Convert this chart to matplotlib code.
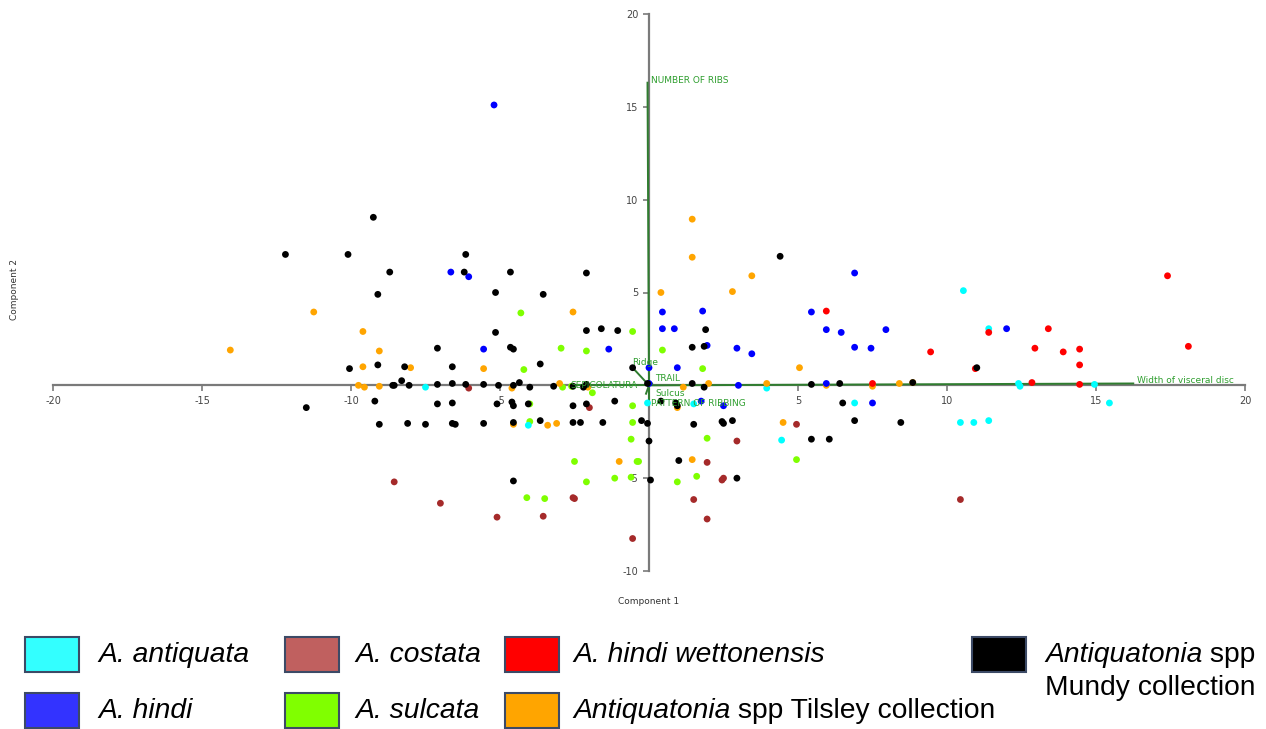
import matplotlib
matplotlib.use('Agg')
import matplotlib.pyplot as plt
from matplotlib.patches import Rectangle
from matplotlib.ticker import FixedLocator

plt.rcParams['axes.unicode_minus'] = False

# PCA scores (Component 1, Component 2) per group
antiquata_x = [-7.5, -4.05, -0.05, 1.5, 3.95, 4.45, 6.9, 10.55, 11.4, 12.4, 12.45, 14.95, 15.45, 10.45, 10.9, 11.4]
antiquata_y = [-0.1, -2.15, -0.95, -1.0, -0.15, -2.95, -0.95, 5.1, 3.05, 0.1, -0.05, 0.05, -0.95, -2.0, -2.0, -1.9]

hindi_x = [-5.2, -6.65, -6.05, -5.55, -1.35, 0.0, 0.0, 0.45, 1.8, 0.45, 0.85, 1.95, 2.95, 3.45, 0.95,
           3.0, 1.75, 2.5, 5.45, 5.95, 6.45, 5.95, 6.9, 7.95, 6.9, 7.45, 12.0, 7.5]
hindi_y = [15.1, 6.1, 5.85, 1.95, 1.95, 0.95, 0.1, 3.95, 4.0, 3.05, 3.05, 2.15, 2.0, 1.7, 0.95,
           0.0, -0.85, -1.1, 3.95, 3.0, 2.85, 0.1, 6.05, 3.0, 2.05, 2.0, 3.05, -0.95]

costata_x = [-6.05, -2.0, 4.95, 2.95, 1.95, 2.45, 2.5, 1.5, -2.55, -2.5, -8.55, -7.0, -5.1, -3.55, -0.55, 1.95, 10.45]
costata_y = [-0.15, -1.2, -2.1, -3.0, -4.15, -5.1, -5.0, -6.15, -6.05, -6.1, -5.2, -6.35, -7.1, -7.05, -8.25, -7.2, -6.15]

sulcata_x = [-4.3, -2.95, -2.1, -0.55, 0.45, -4.2, 1.8, -2.9, -2.6, -1.9, -4.0, -0.55, -4.0, -0.55, -0.6,
             1.95, -2.5, -0.4, -0.35, 4.95, -2.1, -1.15, -0.6, 0.95, 1.6, -4.1, -3.5]
sulcata_y = [3.9, 2.0, 1.85, 2.9, 1.9, 0.85, 0.9, -0.1, -0.05, -0.4, -1.0, -1.1, -1.95, -2.0, -2.9,
             -2.85, -4.1, -4.1, -4.1, -4.0, -5.2, -5.0, -4.95, -5.2, -4.9, -6.05, -6.1]

wettonensis_x = [5.95, 17.4, 13.4, 11.4, 12.95, 13.9, 14.45, 9.45, 18.1, 14.45, 10.95, 12.85, 7.5, 14.45]
wettonensis_y = [4.0, 5.9, 3.05, 2.85, 2.0, 1.8, 1.95, 1.8, 2.1, 1.1, 0.9, 0.15, 0.1, 0.05]

tilsley_x = [-14.05, -11.25, -9.6, -9.05, -9.6, -8.0, -5.55, -9.75, -9.55, -9.05, -4.6, -3.0, -2.05, -4.55,
             -3.4, -3.1, -2.55, -1.0, 1.45, 1.45, 1.45, 3.45, 2.8, 0.4, 1.15, 2.0, 3.95, 5.05, 0.95,
             4.5, 5.95, 7.5, 8.4, 8.85]
tilsley_y = [1.9, 3.95, 2.9, 1.85, 1.0, 0.95, 0.9, 0.0, -0.1, -0.05, -0.15, 0.1, -0.1, -2.1,
             -2.15, -2.05, 3.95, -4.1, -4.0, 8.95, 6.9, 5.9, 5.05, 5.0, -0.1, 0.1, 0.1, 0.95, -1.2,
             -2.0, 0.0, -0.05, 0.1, 0.15]

mundy_x = [-12.2, -10.1, -9.25, -8.7, -9.1, -6.15, -6.2, -4.65, -5.15, -3.55, -5.15, -7.1, -4.65, -4.55,
           -10.05, -9.1, -8.2, -6.6, -3.65, -8.6, -8.55, -8.3, -8.05, -7.1, -6.6, -6.15, -5.55, -5.05,
           -4.55, -4.35, -4.0, -3.2, -2.55, -2.2, -2.1, -0.05, -0.55, -9.2, -7.1, -6.6, -5.1, -4.6,
           -4.55, -4.05, -2.55, -2.1, -1.15, -11.5, -9.05, -8.1, -7.5, -6.6, -6.5, -5.55, -4.55, -3.65,
           -2.55, -2.3, -1.55, -0.25, -0.05, 0.0, -4.55, 0.05, 1.0, 2.95, -2.1, -2.1, -1.6, -1.05,
           1.9, 1.45, 1.85, 1.45, 1.85, 0.4, 0.9, 0.95, 1.5, 2.45, 2.5, 2.8, 4.4, 5.45, 6.4, 5.45,
           6.05, 8.85, 11.0, 6.5, 6.9, 8.45]
mundy_y = [7.05, 7.05, 9.05, 6.1, 4.9, 7.05, 6.1, 6.1, 5.0, 4.9, 2.85, 2.0, 2.05, 1.95,
           0.9, 1.1, 1.0, 1.0, 1.15, 0.0, 0.0, 0.25, 0.0, 0.05, 0.1, 0.05, 0.05, 0.0,
           0.0, 0.15, -0.1, -0.05, -0.05, -0.1, 0.05, 0.1, 0.95, -0.85, -1.0, -0.95, -1.0, -0.9,
           -1.1, -1.0, -1.1, -1.0, -0.85, -1.2, -2.1, -2.05, -2.1, -2.05, -2.1, -2.05, -2.0, -1.9,
           -2.0, -2.0, -2.0, -1.9, -2.05, -3.0, -5.15, -5.1, -4.05, -5.0, 6.05, 2.95, 3.05, 2.95,
           3.0, 2.05, 2.1, 0.1, -0.1, -0.85, -0.95, -1.1, -2.1, -1.95, -2.05, -1.9, 6.95, 0.05, 0.1, -2.9,
           -2.9, 0.15, 0.95, -0.95, -1.9, -2.0]

# biplot loadings
loading_names = ['NUMBER OF RIBS', 'Width of visceral disc', 'Ridge', 'SEPICOLATURA', 'TRAIL', 'Sulcus', 'PATTERN OF RIBBING']
loading_x = [-0.05, 16.25, -0.55, -2.65, 0.1, -0.1, 0.0]
loading_y = [16.3, 0.1, 0.95, 0.0, 0.1, -0.45, -1.0]
label_dx = [0.12, 0.12, 0.0, 0.0, 0.1, 0.3, 0.07]
label_dy = [0.1, 0.17, 0.3, 0.0, 0.28, 0.02, 0.03]

groups = [
    ('costata', costata_x, costata_y, '#A52A2A'),
    ('sulcata', sulcata_x, sulcata_y, '#7FFF00'),
    ('antiquata', antiquata_x, antiquata_y, '#00FFFF'),
    ('tilsley', tilsley_x, tilsley_y, '#FFA500'),
    ('hindi', hindi_x, hindi_y, '#0000FF'),
    ('wettonensis', wettonensis_x, wettonensis_y, '#FF0000'),
    ('mundy', mundy_x, mundy_y, '#000000'),
]

W, H = 1266, 729
fig = plt.figure(figsize=(W / 100, H / 100), dpi=100)
ax = fig.add_axes([53 / W, 1 - 571 / H, (1245 - 53) / W, (571 - 14) / H])
ax.set_xlim(-20, 20)
ax.set_ylim(-10, 20)

for name, xs, ys, col in groups:
    ax.scatter(xs, ys, s=24, color=col, edgecolors='none', zorder=3)

# axes through the origin
for side in ['top', 'right']:
    ax.spines[side].set_visible(False)
ax.spines['left'].set_position(('data', 0))
ax.spines['bottom'].set_position(('data', 0))
for side in ['left', 'bottom']:
    ax.spines[side].set_color('#7a7a7a')
    ax.spines[side].set_linewidth(1.6)
    ax.spines[side].set_zorder(2)
ax.xaxis.set_major_locator(FixedLocator([-20, -15, -10, -5, 5, 10, 15, 20]))
ax.yaxis.set_major_locator(FixedLocator([-10, -5, 5, 10, 15, 20]))
ax.tick_params(colors='#7a7a7a', labelcolor='#444444', labelsize=7, length=4, width=1.2)
ax.patch.set_alpha(0)

# loadings
for nm, lx, ly, dx, dy in zip(loading_names, loading_x, loading_y, label_dx, label_dy):
    ax.plot([0, lx], [0, ly], color='#2f7d2f', lw=1.4, zorder=2.5)
    ax.text(lx + dx, ly + dy, nm, color='#2e9e2e', fontsize=6.5, ha='left', va='center', zorder=4)

ax.text(0.5, -0.055, 'Component 1', transform=ax.transAxes, ha='center', va='center',
        fontsize=6.5, color='#333333')
fig.text(15 / W, 1 - 290 / H, 'Component 2', rotation=90, ha='center', va='center',
         fontsize=6.5, color='#333333')

# legend below the plot (pixel layout)
legend_boxes = [
    (25, 637, '#33FFFF'), (285, 637, '#C0605F'), (505, 637, '#FF0000'), (972, 637, '#000000'),
    (25, 693, '#3333FF'), (285, 693, '#80FF00'), (505, 693, '#FFA500'),
]
for bx, by, col in legend_boxes:
    fig.add_artist(Rectangle((bx / W, 1 - (by + 35) / H), 54 / W, 35 / H, transform=fig.transFigure,
                             facecolor=col, edgecolor='#3C4A66', lw=1.5))

legend_text = [
    (98, 655, [('A. antiquata', 'italic')]),
    (355, 655, [('A. costata', 'italic')]),
    (573, 655, [('A. hindi wettonensis', 'italic')]),
    (1045, 655, [('Antiquatonia', 'italic'), (' spp', 'normal')]),
    (1045, 688, [('Mundy collection', 'normal')]),
    (98, 711, [('A. hindi', 'italic')]),
    (355, 711, [('A. sulcata', 'italic')]),
    (573, 711, [('Antiquatonia', 'italic'), (' spp Tilsley collection', 'normal')]),
]
renderer = fig.canvas.get_renderer()
for tx, ty, parts in legend_text:
    x = tx
    for s, style in parts:
        t = fig.text(x / W, 1 - ty / H, s, fontstyle=style, fontsize=20.3, family='Liberation Sans',
                     ha='left', va='center', color='black')
        bb = t.get_window_extent(renderer=renderer)
        x = bb.x1

fig.savefig('out.png', dpi=100)
